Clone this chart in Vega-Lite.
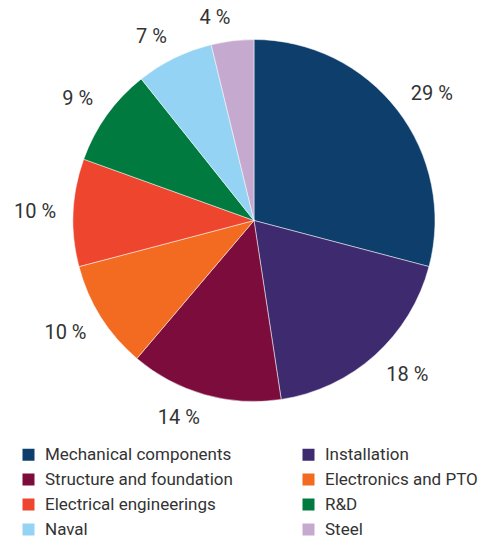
{
  "$schema": "https://vega.github.io/schema/vega-lite/v6.json",
  "width": 454,
  "height": 441,
  "padding": {"left": 27, "right": 0, "top": 0, "bottom": 96},
  "autosize": {"type": "none"},
  "background": "white",
  "config": {"view": {"stroke": null}, "font": "Roboto"},
  "data": {
    "values": [
      {"category": "Mechanical components", "value": 29.1, "label": "29 %", "order": 1},
      {"category": "Installation", "value": 18.5, "label": "18 %", "order": 2},
      {"category": "Structure and foundation", "value": 13.6, "label": "14 %", "order": 3},
      {"category": "Electronics and PTO", "value": 9.7, "label": "10 %", "order": 4},
      {"category": "Electrical engineerings", "value": 9.6, "label": "10 %", "order": 5},
      {"category": "R&D", "value": 8.8, "label": "9 %", "order": 6},
      {"category": "Naval", "value": 6.9, "label": "7 %", "order": 7},
      {"category": "Steel", "value": 3.8, "label": "4 %", "order": 8}
    ]
  },
  "encoding": {
    "theta": {"field": "value", "type": "quantitative", "stack": true},
    "order": {"field": "order", "type": "quantitative"}
  },
  "layer": [
    {
      "mark": {"type": "arc", "outerRadius": 181, "stroke": "white", "strokeWidth": 0.5},
      "encoding": {
        "color": {
          "field": "category",
          "type": "nominal",
          "scale": {
            "domain": ["Mechanical components", "Structure and foundation", "Electrical engineerings", "Naval", "Installation", "Electronics and PTO", "R&D", "Steel"],
            "range": ["#0E3F6C", "#7C0C3C", "#EE452F", "#94D3F3", "#3E2A6F", "#F26B21", "#007A3E", "#C6A9CF"]
          },
          "legend": {
            "title": null,
            "orient": "none",
            "legendX": -7,
            "legendY": 446,
            "columns": 2,
            "columnPadding": 67,
            "rowPadding": 7,
            "symbolType": "square",
            "symbolSize": 144,
            "symbolStrokeWidth": 0,
            "symbolOffset": 0,
            "labelOffset": 8,
            "labelFontSize": 17,
            "labelFont": "Roboto",
            "labelColor": "#333333",
            "labelLimit": 300
          }
        }
      }
    },
    {
      "mark": {
        "type": "text",
        "radius": 198,
        "fontSize": 20,
        "font": "Roboto",
        "color": "#333333",
        "align": {"expr": "sin(PI * (datum.value_start + datum.value_end) / 100) > 0.1 ? 'left' : (sin(PI * (datum.value_start + datum.value_end) / 100) < -0.1 ? 'right' : 'center')"},
        "baseline": {"expr": "cos(PI * (datum.value_start + datum.value_end) / 100) > 0.3 ? 'bottom' : (cos(PI * (datum.value_start + datum.value_end) / 100) < -0.3 ? 'top' : 'middle')"},
        "dy": {"expr": "cos(PI * (datum.value_start + datum.value_end) / 100) > 0.3 ? 4 : (cos(PI * (datum.value_start + datum.value_end) / 100) < -0.3 ? -3 : 0)"}
      },
      "encoding": {
        "text": {"field": "label", "type": "nominal"}
      }
    }
  ]
}
